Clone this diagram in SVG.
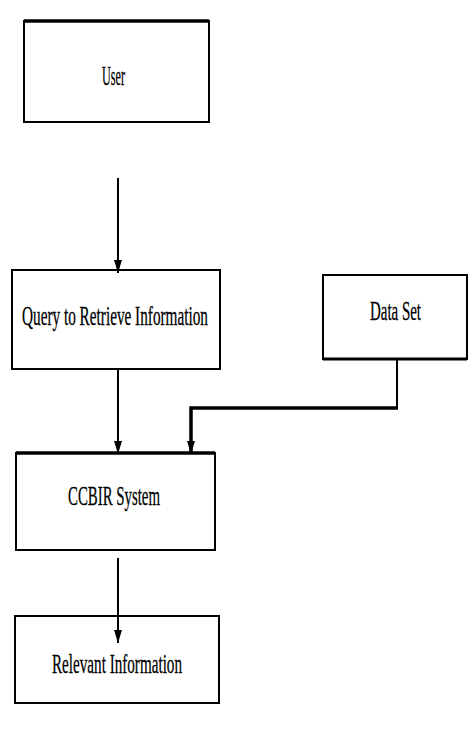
<svg xmlns="http://www.w3.org/2000/svg" width="475" height="729" viewBox="0 0 475 729">
<style>
.box{fill:#fff;stroke:#000;stroke-width:2}
.lbl{font-family:"Liberation Serif","Times New Roman",serif;font-size:28px;fill:#000;stroke:#000;stroke-width:0.3}
.conn{fill:none;stroke:#000;stroke-width:2}
.thick{stroke-width:3.5}
</style>
<defs>
<marker id="ah" markerUnits="userSpaceOnUse" markerWidth="13" markerHeight="10" refX="13" refY="4" orient="auto">
<path d="M0,0 L13,4 L0,8 Z" fill="#000"/>
</marker>
</defs>
<rect width="475" height="729" fill="#fff"/>
<g id="user">
<rect class="box" x="24" y="21" width="185" height="101"/>
<line x1="24" y1="21" x2="209" y2="21" stroke="#000" stroke-width="3.5"/>
<text class="lbl" x="102" y="85" textLength="23" lengthAdjust="spacingAndGlyphs">User</text>
</g>
<g id="query">
<rect class="box" x="12" y="270" width="208" height="99"/>
<text class="lbl" x="22" y="325" textLength="186" lengthAdjust="spacingAndGlyphs">Query to Retrieve Information</text>
</g>
<g id="dataset">
<rect class="box" x="323" y="275" width="144" height="84"/>
<line x1="323" y1="359" x2="467" y2="359" stroke="#000" stroke-width="3"/>
<text class="lbl" x="370" y="320" textLength="51" lengthAdjust="spacingAndGlyphs">Data Set</text>
</g>
<g id="ccbir">
<rect class="box" x="16" y="453" width="199" height="97"/>
<line x1="16" y1="453" x2="215" y2="453" stroke="#000" stroke-width="3.5"/>
<text class="lbl" x="68" y="505" textLength="92" lengthAdjust="spacingAndGlyphs">CCBIR System</text>
</g>
<g id="relevant">
<rect class="box" x="15" y="616" width="204" height="87"/>
<text class="lbl" x="52" y="673" textLength="130" lengthAdjust="spacingAndGlyphs">Relevant Information</text>
</g>
<g id="connectors">
<line class="conn" x1="118" y1="178" x2="118" y2="273" marker-end="url(#ah)"/>
<line class="conn" x1="118" y1="369" x2="118" y2="454" marker-end="url(#ah)"/>
<line class="conn" x1="118" y1="558" x2="118" y2="643" marker-end="url(#ah)"/>
<path class="conn" d="M397,359 V408"/>
<path class="conn thick" d="M398,408 H191 V454" marker-end="url(#ah)"/>
</g>
</svg>
